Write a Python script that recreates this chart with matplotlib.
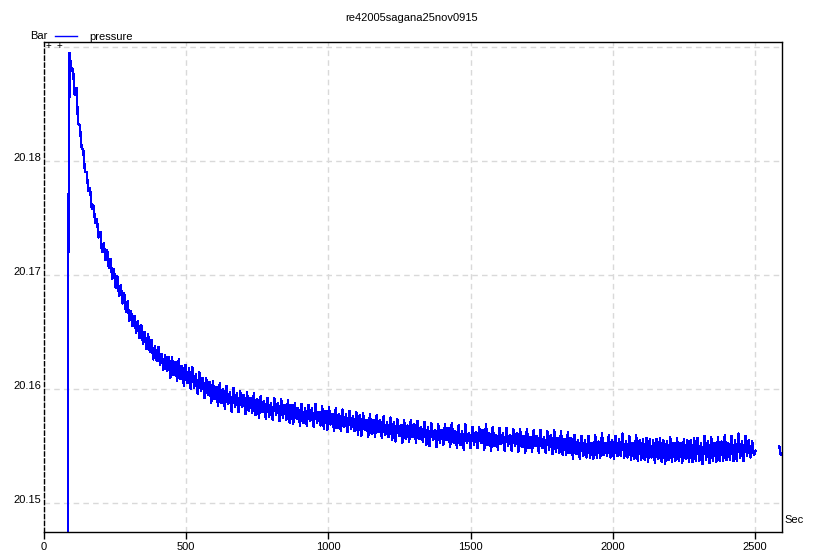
import numpy as np
import matplotlib
matplotlib.use('Agg')
import matplotlib.pyplot as plt

plt.rcParams['font.family'] = ['Liberation Sans', 'DejaVu Sans']
plt.rcParams['font.size'] = 8

title = 're42005sagana25nov0915'

# first reading (below the plotted range) before the pressure jump
lead_t = [83.5]
lead_p = [20.140]

# pressure readings every 6 s from t = 84 s, in 1e-4 bar above 20.15 bar
pressure_u = [
    162, 395, 379, 381, 358, 364, 333, 331, 312, 310, 291, 290, 274, 276, 258, 261, 246, 249, 233, 238,
    220, 228, 213, 222, 206, 214, 197, 205, 189, 199, 182, 191, 175, 184, 168, 177, 160, 168, 155, 164,
    149, 160, 145, 156, 140, 150, 135, 148, 133, 143, 126, 138, 125, 137, 121, 131, 117, 130, 116, 128,
    110, 128, 112, 124, 107, 126, 109, 120, 103, 121, 105, 118, 100, 119, 101, 113, 96, 115, 98, 110,
    92, 110, 95, 106, 88, 107, 91, 102, 85, 105, 88, 100, 83, 103, 87, 97, 80, 101, 84, 96,
    80, 98, 84, 95, 78, 97, 81, 92, 79, 96, 77, 91, 75, 94, 80, 89, 74, 92, 76, 88,
    73, 92, 77, 88, 72, 91, 75, 86, 73, 90, 70, 86, 69, 88, 74, 83, 68, 87, 70, 83,
    68, 86, 72, 83, 67, 87, 70, 80, 68, 85, 65, 81, 64, 84, 69, 78, 63, 83, 66, 78,
    63, 82, 67, 78, 62, 81, 65, 76, 63, 80, 60, 77, 59, 79, 64, 73, 58, 78, 61, 73,
    58, 77, 62, 73, 57, 76, 60, 71, 58, 75, 55, 71, 54, 74, 59, 68, 53, 73, 56, 68,
    54, 73, 58, 69, 53, 72, 56, 67, 54, 71, 51, 67, 50, 70, 55, 64, 49, 69, 53, 64,
    51, 69, 55, 66, 49, 70, 53, 63, 48, 68, 51, 63, 47, 69, 53, 61, 48, 67, 51, 62,
    48, 67, 53, 64, 47, 69, 51, 61, 46, 67, 50, 60, 47, 66, 52, 61, 46, 66, 50, 60,
    46, 65, 50, 61, 45, 65, 49, 59, 44, 65, 48, 58, 45, 64, 50, 59, 44, 64, 48, 58,
    44, 63, 47, 60, 43, 64, 45, 57, 44, 63, 42, 56, 42, 62, 44, 57, 39, 60, 43, 55,
    39, 59, 41, 55, 40, 59, 40, 53, 39, 60, 40, 54, 40, 61, 42, 53, 41, 60, 40, 55,
    39, 59, 41, 56, 41, 61, 40, 54, 40, 59, 38, 53, 39, 60, 37, 55, 38, 56, 38, 57,
    36, 56, 40, 55, 35, 56, 39, 57, 36, 55, 34, 54, 38, 58, 36, 53, 37, 57, 37, 53,
    35, 56, 39, 55, 36, 55, 36, 57, 37, 57, 37, 53, 34, 59, 38, 54, 35, 58, 37, 53,
    36, 58, 37, 54, 37, 60, 38, 53, 38, 59, 37, 55, 37, 61, 40, 54, 37, 59, 41, 55,
    40, 54, 42, 46,
]
t_start = 84
t_step = 6

# short trace at the right edge
tail_t = [2585, 2591]
tail_u = [50, 42]

xticks = [0, 500, 1000, 1500, 2000, 2500]
yticks = [20.15, 20.16, 20.17, 20.18, 20.19]
ylabels = ['20.15', '20.16', '20.17', '20.18', '']

t = t_start + t_step * np.arange(len(pressure_u))
p = 20.15 + np.array(pressure_u) / 10000.0
t_all = np.concatenate([lead_t, t])
p_all = np.concatenate([lead_p, p])
tail_p = 20.15 + np.array(tail_u) / 10000.0

fig = plt.figure(figsize=(8.19, 5.60), dpi=100)
ax = fig.add_axes([44 / 819, 1 - 532 / 560, 738 / 819, 490 / 560])

ax.plot(t_all, p_all, color='#0000ff', lw=1.0, antialiased=False, label='pressure')
ax.plot(tail_t, tail_p, color='#0000ff', lw=1.0, antialiased=False)

ax.set_xlim(0, 2595)
ax.set_ylim(20.14746, 20.19044)
ax.set_xticks(xticks)
ax.set_xticklabels([str(x) for x in xticks])
ax.set_yticks(yticks)
ax.set_yticklabels(ylabels)
for lab in ax.get_yticklabels():
    lab.set_verticalalignment('baseline')
ax.tick_params(axis='y', length=0, pad=2)
ax.tick_params(axis='x', length=5, width=1, pad=2, direction='out')

ax.grid(True, color='#d9d9d9', linestyle=(0, (4, 3)), lw=1)
ax.set_axisbelow(True)
for s in ['top', 'right', 'bottom']:
    ax.spines[s].set_color('black')
    ax.spines[s].set_linewidth(1)
ax.spines['left'].set_linestyle((0, (3, 2)))
ax.spines['left'].set_linewidth(1)

ax.legend(loc='lower left', bbox_to_anchor=(11 / 738, 1.0), frameon=False,
          borderpad=0, borderaxespad=0, handlelength=2.0, handletextpad=1.1)

fig.text(412 / 819, 1 - 18 / 560, title, ha='center', va='center')
fig.text(30 / 819, 1 - 36 / 560, 'Bar', ha='left', va='center')
fig.text(784 / 819, 1 - 520 / 560, 'Sec', ha='left', va='center')
fig.text(48 / 819, 1 - 46 / 560, '+', ha='center', va='center', fontsize=7)
fig.text(59 / 819, 1 - 46 / 560, '+', ha='center', va='center', fontsize=7)

fig.savefig('out.png', dpi=100)
